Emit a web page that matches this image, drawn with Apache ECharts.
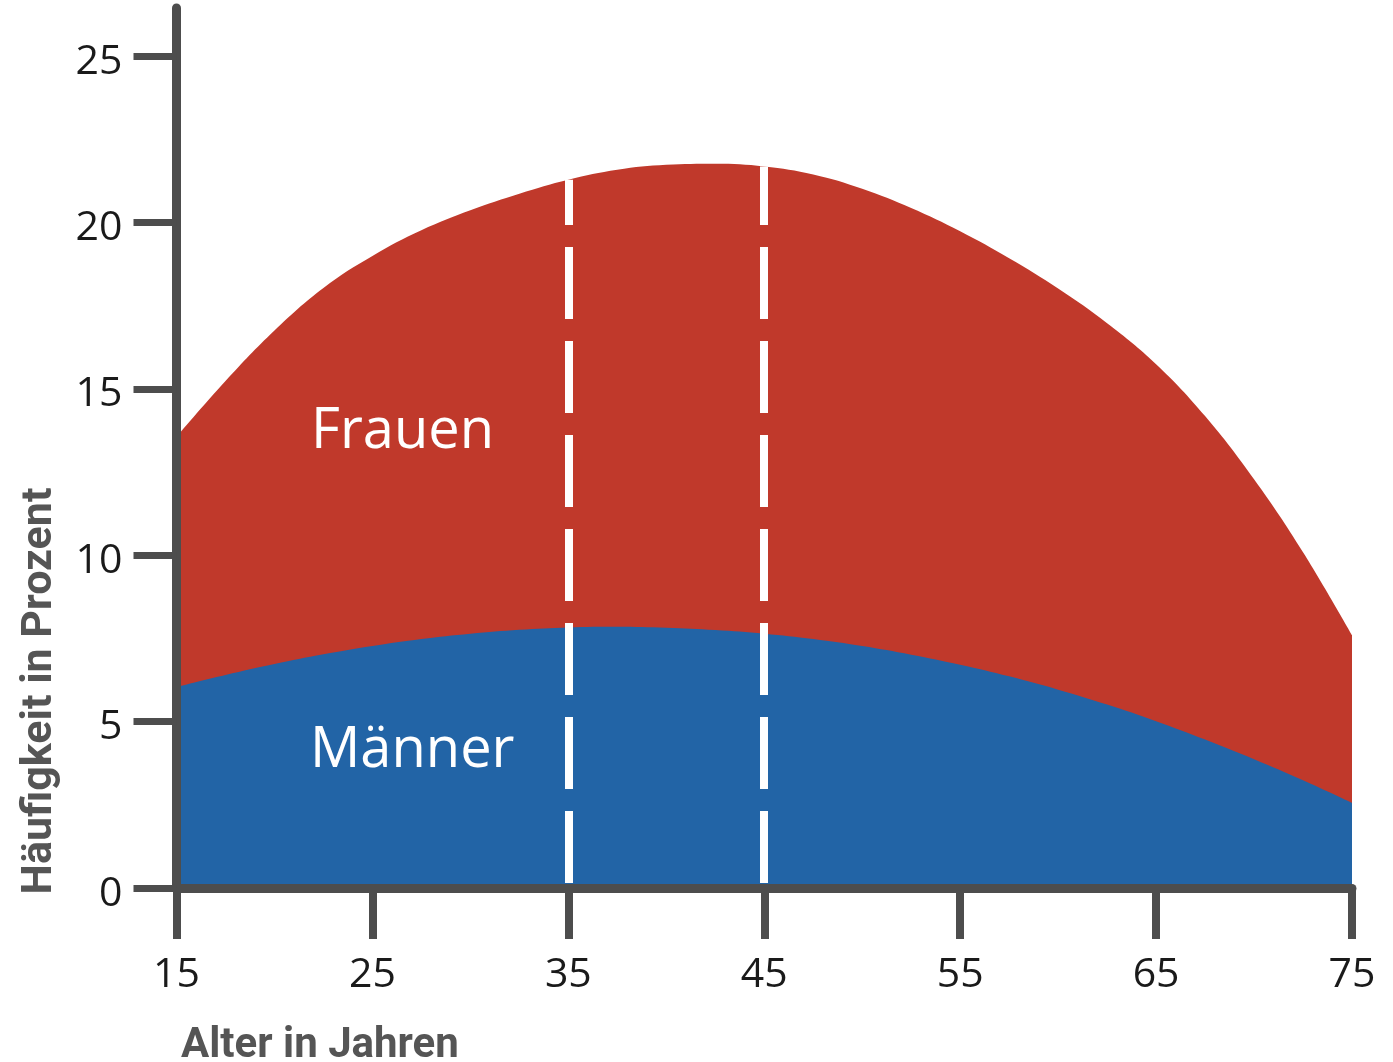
<!DOCTYPE html>
<html>
<head>
<meta charset="utf-8">
<script src="https://cdn.jsdelivr.net/npm/echarts@6/dist/echarts.min.js"></script>
<style>html,body{margin:0;padding:0;background:#fff}#c{width:1393px;height:1062px}</style>
</head>
<body>
<div id="c"></div>
<script>
// Age in years (x)
const ages = [15, 17.5, 20, 22.5, 25, 27.5, 30, 32.5, 35, 37.5, 40, 42.5, 45, 47.5, 50, 52.5, 55, 57.5, 60, 62.5, 65, 67.5, 70, 72.5, 75];
// Frequency in percent – women
const frauen = [13.55, 15.23, 16.75, 18.03, 18.99, 19.76, 20.36, 20.86, 21.28, 21.58, 21.73, 21.76, 21.68, 21.44, 21.01, 20.43, 19.73, 18.92, 18.01, 16.97, 15.74, 14.18, 12.28, 10.09, 7.60];
// Frequency in percent – men
const maenner = [6.04, 6.40, 6.73, 7.02, 7.27, 7.48, 7.64, 7.76, 7.83, 7.85, 7.82, 7.75, 7.64, 7.48, 7.27, 7.01, 6.71, 6.36, 5.96, 5.51, 5.01, 4.46, 3.87, 3.24, 2.56];
const seriesNames = ['Frauen', 'Männer'];
const yTickValues = [0, 5, 10, 15, 20, 25];
const markAges = [35, 45];
const xAxisTitle = 'Alter in Jahren';
const yAxisTitle = 'Häufigkeit in Prozent';

const RED = '#C0392B', BLUE = '#2264A6', AXIS = '#4d4d4d';

const chart = echarts.init(document.getElementById('c'), null, {renderer: 'canvas'});
const option = {
  animation: false,
  backgroundColor: '#ffffff',
  grid: {left: 176.5, right: 41, top: 8, bottom: 174, containLabel: false},
  xAxis: {
    type: 'value', min: 15, max: 75, interval: 10, z: 10,
    axisLine: {show: true, lineStyle: {color: AXIS, width: 9}},
    axisTick: {show: true, length: 51, lineStyle: {color: AXIS, width: 8}},
    axisLabel: {fontSize: 41, color: '#1a1a1a', fontFamily: 'Open Sans', margin: 67},
    splitLine: {show: false}
  },
  yAxis: {
    type: 'value', min: 0, max: 26.44, interval: 5, z: 10,
    axisLine: {show: true, lineStyle: {color: AXIS, width: 9}},
    axisTick: {show: true, length: 43, customValues: yTickValues, lineStyle: {color: AXIS, width: 7}},
    axisLabel: {
      margin: 54, customValues: yTickValues,
      formatter: '{v|{value}}',
      rich: {v: {fontSize: 41, color: '#1a1a1a', fontFamily: 'Open Sans', padding: [12, 0, 0, 0]}}
    },
    splitLine: {show: false}
  },
  series: [
    {
      name: seriesNames[0], type: 'line', smooth: 0.4, symbol: 'none',
      data: ages.map((a, i) => [a, frauen[i]]),
      lineStyle: {width: 0, color: RED}, itemStyle: {color: RED},
      areaStyle: {color: RED, opacity: 1},
      markLine: {
        silent: true, symbol: ['none', 'none'], label: {show: false}, z: 5,
        lineStyle: {color: '#ffffff', width: 8, type: [72, 22], dashOffset: 89, opacity: 1},
        emphasis: {disabled: true},
        data: markAges.map(a => [{coord: [a, 0]}, {coord: [a, frauen[ages.indexOf(a)]]}])
      }
    },
    {
      name: seriesNames[1], type: 'line', smooth: 0.4, symbol: 'none',
      data: ages.map((a, i) => [a, maenner[i]]),
      lineStyle: {width: 0, color: BLUE}, itemStyle: {color: BLUE},
      areaStyle: {color: BLUE, opacity: 1}
    }
  ],
  graphic: [
    {type: 'text', left: 311, top: 404, z: 20, style: {text: seriesNames[0], fill: '#ffffff', font: '56px "Open Sans"'}},
    {type: 'text', left: 310, top: 723, z: 20, style: {text: seriesNames[1], fill: '#ffffff', font: '56px "Open Sans"'}},
    {type: 'text', left: 181, top: 1025, z: 20, style: {text: xAxisTitle, fill: '#555555', font: 'bold 42px Roboto'}},
    {type: 'text', x: 40, y: 691, rotation: Math.PI / 2, z: 20, style: {text: yAxisTitle, fill: '#555555', font: 'bold 43px Roboto', align: 'center', verticalAlign: 'middle'}}
  ]
};
chart.setOption(option);
</script>
</body>
</html>
